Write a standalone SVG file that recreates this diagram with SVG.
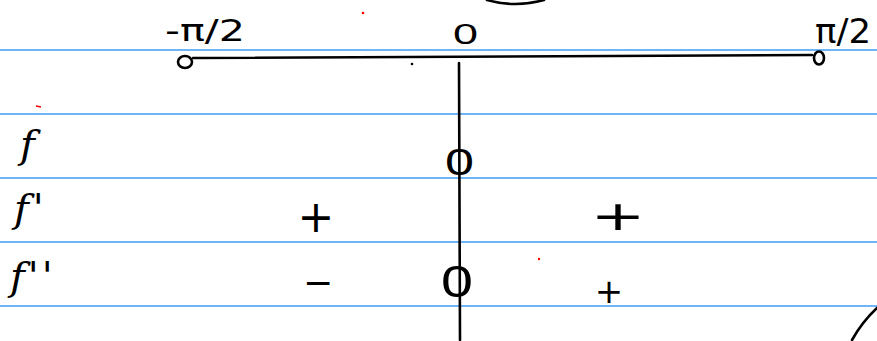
<svg xmlns="http://www.w3.org/2000/svg" width="877" height="341" viewBox="0 0 877 341">
<style>
.rule{stroke:#3d9cf5;stroke-width:1.6;fill:none}
.ink{stroke:#000;stroke-width:2.6;fill:none;stroke-linecap:round;stroke-linejoin:round}
.lbl{font-family:"DejaVu Sans","Liberation Sans",sans-serif;fill:#000}
.fn{font-family:"DejaVu Serif","Liberation Serif",serif;font-style:italic;fill:#000}
.sign{font-family:"DejaVu Sans","Liberation Sans",sans-serif;fill:#000;text-anchor:middle}
.zero{font-family:"Liberation Sans","DejaVu Sans",sans-serif;fill:#000}
</style>
<rect width="877" height="341" fill="#fff"/>
<g id="paper">
<line class="rule" x1="0" y1="50" x2="877" y2="50"/>
<line class="rule" x1="0" y1="114" x2="877" y2="114"/>
<line class="rule" x1="0" y1="178" x2="877" y2="178"/>
<line class="rule" x1="0" y1="242" x2="877" y2="242"/>
<line class="rule" x1="0" y1="306" x2="877" y2="306"/>
</g>
<g id="connectors">
<path class="ink" d="M193,58 L812,55"/>
<path class="ink" d="M459,63 L460,340"/>
<path class="ink" d="M487,0 Q515,8 544,0"/>
<path class="ink" d="M852,340 Q862,322 877,308"/>
</g>
<g id="axis-left">
<ellipse class="ink" cx="185" cy="62" rx="7" ry="6"/>
<text class="lbl" x="165" y="41" font-size="30" textLength="80" lengthAdjust="spacingAndGlyphs">-π/2</text>
</g>
<g id="axis-zero">
<text class="zero" x="453" y="44" font-size="29" textLength="25" lengthAdjust="spacingAndGlyphs">0</text>
</g>
<g id="axis-right">
<ellipse class="ink" cx="819" cy="58" rx="5" ry="6.5"/>
<text class="lbl" x="815" y="43" font-size="34" textLength="56" lengthAdjust="spacingAndGlyphs">π/2</text>
</g>
<g id="row-f">
<text class="fn" x="20" y="158" font-size="40">f</text>
<text class="zero" x="445" y="175" font-size="37" textLength="29" lengthAdjust="spacingAndGlyphs">0</text>
</g>
<g id="row-f1">
<text class="fn" x="14" y="222" font-size="40" letter-spacing="4">f'</text>
<text class="sign" x="316" y="232" font-size="44">+</text>
<text class="sign" x="618" y="230" font-size="40" textLength="55" lengthAdjust="spacingAndGlyphs">+</text>
</g>
<g id="row-f2">
<text class="fn" x="10" y="290" font-size="40" letter-spacing="3">f''</text>
<text class="sign" x="318" y="295" font-size="36">−</text>
<text class="zero" x="441" y="297" font-size="44" textLength="32" lengthAdjust="spacingAndGlyphs">0</text>
<text class="sign" x="609" y="303" font-size="34">+</text>
</g>
<g id="marks">
<circle cx="363" cy="13" r="1.3" fill="#f00"/>
<path d="M36,106 L41,107" stroke="#f00" stroke-width="1.5"/>
<circle cx="539" cy="259" r="1.2" fill="#f00"/>
<circle cx="412" cy="64" r="1.3" fill="#000"/>
</g>
</svg>
